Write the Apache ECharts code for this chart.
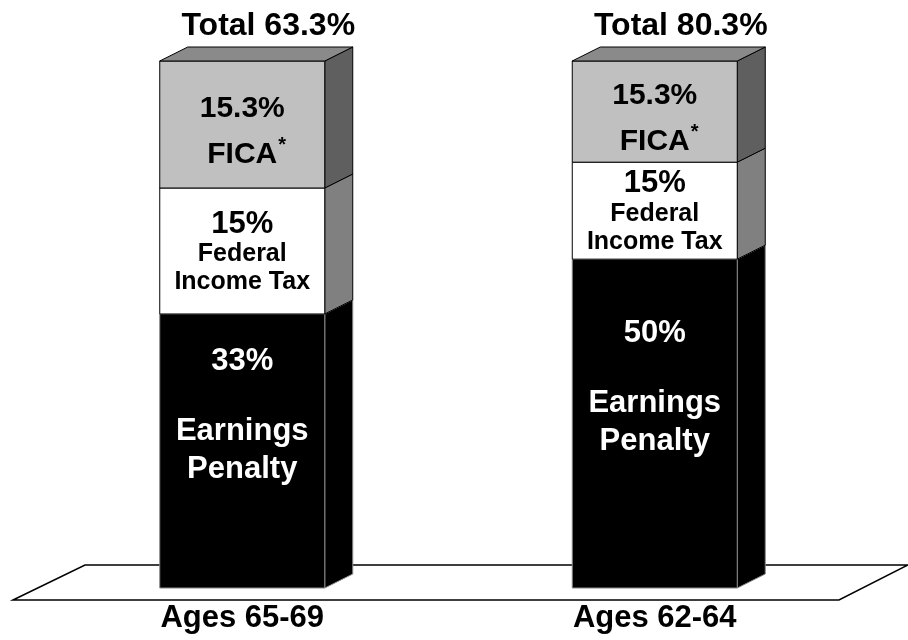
<!DOCTYPE html>
<html>
<head>
<meta charset="utf-8">
<script src="https://cdn.jsdelivr.net/npm/echarts@6/dist/echarts.min.js"></script>
<style>
  html, body { margin: 0; padding: 0; background: #fff; }
  #chart { width: 908px; height: 640px; }
</style>
</head>
<body>
<div id="chart"></div>
<script>
var categories = ['Ages 65-69', 'Ages 62-64'];
// band heights as drawn in the picture, in % of the full bar height (bars are not to scale)
var penaltyHeight = [52.0, 62.4];
var incomeTaxHeight = [23.9, 18.4];
var ficaHeight = [24.1, 19.2];
// printed values
var penaltyText = ['33%', '50%'];
var incomeTaxText = ['15%', '15%'];
var ficaText = ['15.3%', '15.3%'];
var totalText = ['Total 63.3%', 'Total 80.3%'];

var FONT = '"Liberation Sans", Arial, sans-serif';
var DX = 28, DY = -14;   // depth of the 3d boxes
var BAR_RATIO = 0.4;

var myChart = echarts.init(document.getElementById('chart'));

// stacked [cat, base, top] triplets
var penaltyData = [], incomeData = [], ficaData = [];
for (var i = 0; i < categories.length; i++) {
  var a = penaltyHeight[i], b = a + incomeTaxHeight[i], c = b + ficaHeight[i];
  penaltyData.push([i, 0, a]);
  incomeData.push([i, a, b]);
  ficaData.push([i, b, c]);
}

function font(size) {
  return 'bold ' + size + 'px ' + FONT;
}

function makeRender(colors, lines, isTop) {
  return function (params, api) {
    var cat = api.value(0);
    var lo = api.coord([cat, api.value(1)]);
    var hi = api.coord([cat, api.value(2)]);
    var bw = api.size([1, 0])[0] * BAR_RATIO;
    var x0 = lo[0] - bw / 2, x1 = lo[0] + bw / 2;
    var yb = lo[1], yt = hi[1];
    var edge = { stroke: colors.stroke, lineWidth: 1 };
    var kids = [
      {
        type: 'polygon',
        shape: { points: [[x1, yb], [x1 + DX, yb + DY], [x1 + DX, yt + DY], [x1, yt]] },
        style: Object.assign({ fill: colors.side }, edge)
      },
      {
        type: 'rect',
        shape: { x: x0, y: yt, width: bw, height: yb - yt },
        style: Object.assign({ fill: colors.front }, edge)
      }
    ];
    if (isTop) {
      kids.push({
        type: 'polygon',
        shape: { points: [[x0, yt], [x0 + DX, yt + DY], [x1 + DX, yt + DY], [x1, yt]] },
        style: Object.assign({ fill: colors.top }, edge)
      });
      kids.push({
        type: 'text',
        x: lo[0] + 26, y: yt - 35,
        style: { text: totalText[cat], font: font(32), fill: '#000', align: 'center', verticalAlign: 'middle' }
      });
    }
    var mid = (yb + yt) / 2;
    lines(cat).forEach(function (ln) {
      kids.push({
        type: 'text',
        x: lo[0] + (ln.dx || 0), y: mid + ln.dy,
        style: { text: ln.text, font: font(ln.size), fill: colors.text, align: 'center', verticalAlign: 'middle' }
      });
    });
    return { type: 'group', children: kids };
  };
}

var option = {
  animation: false,
  grid: { left: 36, right: 47, top: 61, bottom: 52 },
  xAxis: {
    type: 'category',
    data: categories,
    axisLine: { show: false },
    axisTick: { show: false },
    axisLabel: { color: '#000', fontFamily: FONT, fontWeight: 'bold', fontSize: 31, margin: 15 }
  },
  yAxis: { type: 'value', min: 0, max: 100, show: false },
  series: [
    {
      // floor plane
      type: 'custom',
      z: 1,
      data: [[0]],
      renderItem: function (params, api) {
        var cs = params.coordSys;
        var bottom = cs.y + cs.height;
        return {
          type: 'polygon',
          shape: { points: [
            [cs.x - 23, bottom + 12], [cs.x + 49, bottom - 23],
            [cs.x + cs.width + 47, bottom - 23], [cs.x + cs.width - 22, bottom + 12]
          ] },
          style: { fill: '#fff', stroke: '#000', lineWidth: 1.5 }
        };
      }
    },
    {
      name: 'Earnings Penalty',
      type: 'custom',
      z: 2,
      data: penaltyData,
      renderItem: makeRender({ front: '#000', side: '#000', stroke: '#888', text: '#fff' }, function (i) {
        return [
          { text: penaltyText[i], size: 31, dy: -90 },
          { text: 'Earnings', size: 31, dy: -20 },
          { text: 'Penalty', size: 31, dy: 18 }
        ];
      }, false)
    },
    {
      name: 'Federal Income Tax',
      type: 'custom',
      z: 3,
      data: incomeData,
      renderItem: makeRender({ front: '#fff', side: '#808080', stroke: '#000', text: '#000' }, function (i) {
        return [
          { text: incomeTaxText[i], size: 31, dy: -27 },
          { text: 'Federal', size: 25, dy: 3 },
          { text: 'Income Tax', size: 25, dy: 31 }
        ];
      }, false)
    },
    {
      name: 'FICA',
      type: 'custom',
      z: 4,
      data: ficaData,
      renderItem: makeRender({ front: '#c0c0c0', side: '#5f5f5f', top: '#8a8a8a', stroke: '#000', text: '#000' }, function (i) {
        return [
          { text: ficaText[i], size: 30, dy: -16 },
          { text: 'FICA', size: 30, dy: 30 },
          { text: '*', size: 20, dy: 21, dx: 40 }
        ];
      }, true)
    }
  ]
};

myChart.setOption(option);
window.addEventListener('resize', myChart.resize);
</script>
</body>
</html>
